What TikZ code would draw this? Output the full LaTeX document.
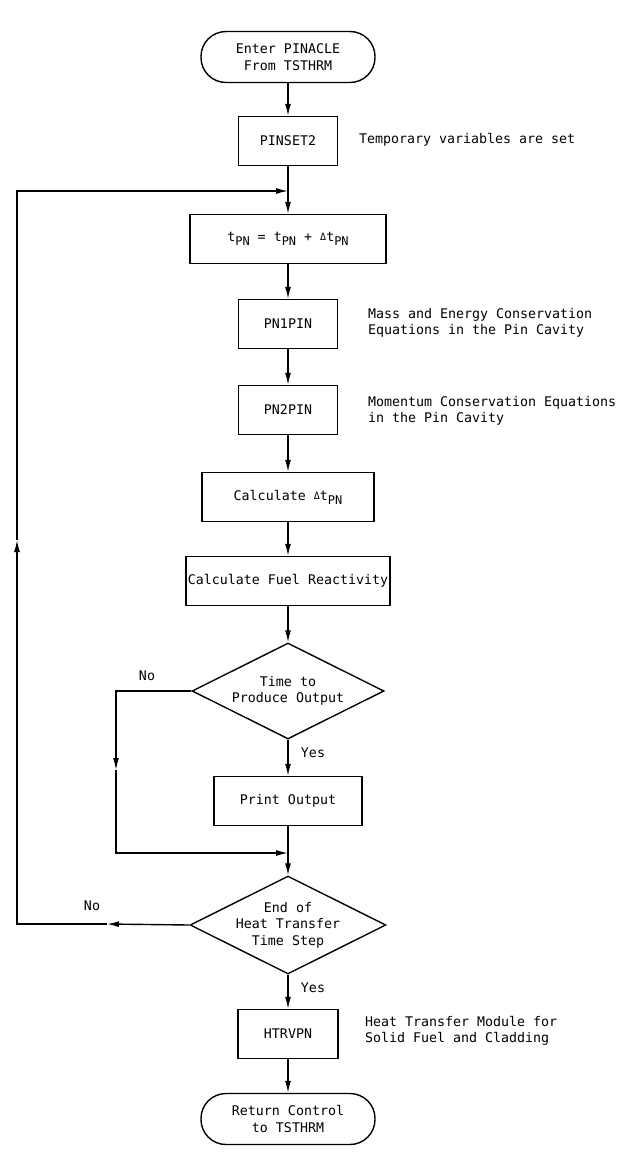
\documentclass[tikz,border=0pt]{standalone}
\usepackage{fontspec}
\setmainfont{DejaVu Sans Mono}
\usetikzlibrary{arrows.meta,shapes.geometric}
\tikzset{font=\fontsize{13.3}{16.5}\selectfont}
\tikzset{every node/.append style={transform shape=false}}
\newcommand{\mysub}[1]{\raisebox{-0.55ex}{\fontsize{12}{12}\selectfont #1}}
\newcommand{\mydelta}{\raisebox{0.15ex}{\fontsize{10}{10}\selectfont Δ}}

\begin{document}
\begin{tikzpicture}[x=1pt,y=-1pt,line width=1.4pt,
  block/.style={draw,rectangle,minimum height=49pt,align=center,inner sep=2pt},
  term/.style={draw,rectangle,rounded corners=25pt,minimum width=174pt,minimum height=51pt,align=center},
  decision/.style={draw,diamond,aspect=2,inner sep=0pt,minimum width=192pt,minimum height=96pt,align=center},
  note/.style={anchor=west,align=left},
  flow/.style={-{Latex[length=12pt,width=6pt]}}]
  \useasboundingbox (0,0) rectangle (632,1160);

  \node[term] (enter) at (288,57) {Enter PINACLE\\From TSTHRM};
  \node[block,minimum width=99pt] (pinset) at (288,141) {PINSET2};
  \node[block,minimum width=196pt] (tpn) at (288,239)
    {t\mysub{PN} = t\mysub{PN} + \mydelta t\mysub{PN}};
  \node[block,minimum width=99pt] (pn1) at (288,324) {PN1PIN};
  \node[block,minimum width=99pt] (pn2) at (288,410) {PN2PIN};
  \node[block,minimum width=172pt] (dtpn) at (288,497) {Calculate \mydelta t\mysub{PN}};
  \node[block,minimum width=190pt] (react) at (288,581) {Calculate Fuel Reactivity};
  \node[decision] (prod) at (288,691) {Time to\\Produce Output};
  \node[block,minimum width=148pt] (print) at (288,801) {Print Output};
  \node[decision,minimum width=189pt] (endstep) at (288,925) {End of\\Heat Transfer\\Time Step};
  \node[block,minimum width=100pt] (htrvpn) at (288,1034) {HTRVPN};
  \node[term] (return) at (288,1119) {Return Control\\to TSTHRM};

  \node[note] (tempnote) at (355,140) {Temporary variables are set};
  \node[note] (pn1note) at (364,323) {Mass and Energy Conservation\\Equations in the Pin Cavity};
  \node[note] (pn2note) at (364,411) {Momentum Conservation Equations\\in the Pin Cavity};
  \node[note] (htrnote) at (361,1031) {Heat Transfer Module for\\Solid Fuel and Cladding};

  \node (noprod) at (147,676) {No};
  \node (yesprod) at (313,753) {Yes};
  \node (noend) at (92,906) {No};
  \node (yesend) at (313,988) {Yes};

  \coordinate (join) at (288,853);
  \coordinate (noturn) at (116,691);
  \coordinate (nomid) at (116,770);
  \coordinate (nobot) at (116,853);
  \coordinate (backarr) at (107,924);
  \coordinate (backleft) at (17,924);
  \coordinate (backmid) at (17,540);
  \coordinate (backtop) at (17,191);
  \coordinate (backin) at (288,191);

  \draw[flow] (enter) -- (pinset);
  \draw[flow] (pinset) -- (tpn);
  \draw[flow] (tpn) -- (pn1);
  \draw[flow] (pn1) -- (pn2);
  \draw[flow] (pn2) -- (dtpn);
  \draw[flow] (dtpn) -- (react);
  \draw[flow] (react) -- (prod);
  \draw[flow] (prod) -- (print);
  \draw (print) -- (join);
  \draw[flow] (join) -- (endstep);
  \draw[flow] (endstep) -- (htrvpn);
  \draw[flow] (htrvpn) -- (return);

  % no output this step
  \draw[flow] (prod.west) -- (noturn) -- (nomid);
  \draw[flow] (nomid) -- (nobot) -- (join);

  % back to the next pin time step
  \draw[flow] (endstep.west) -- (backarr);
  \draw[flow] (backarr) -- (backleft) -- (backmid);
  \draw[flow] (backmid) -- (backtop) -- (backin);
\end{tikzpicture}
\end{document}
